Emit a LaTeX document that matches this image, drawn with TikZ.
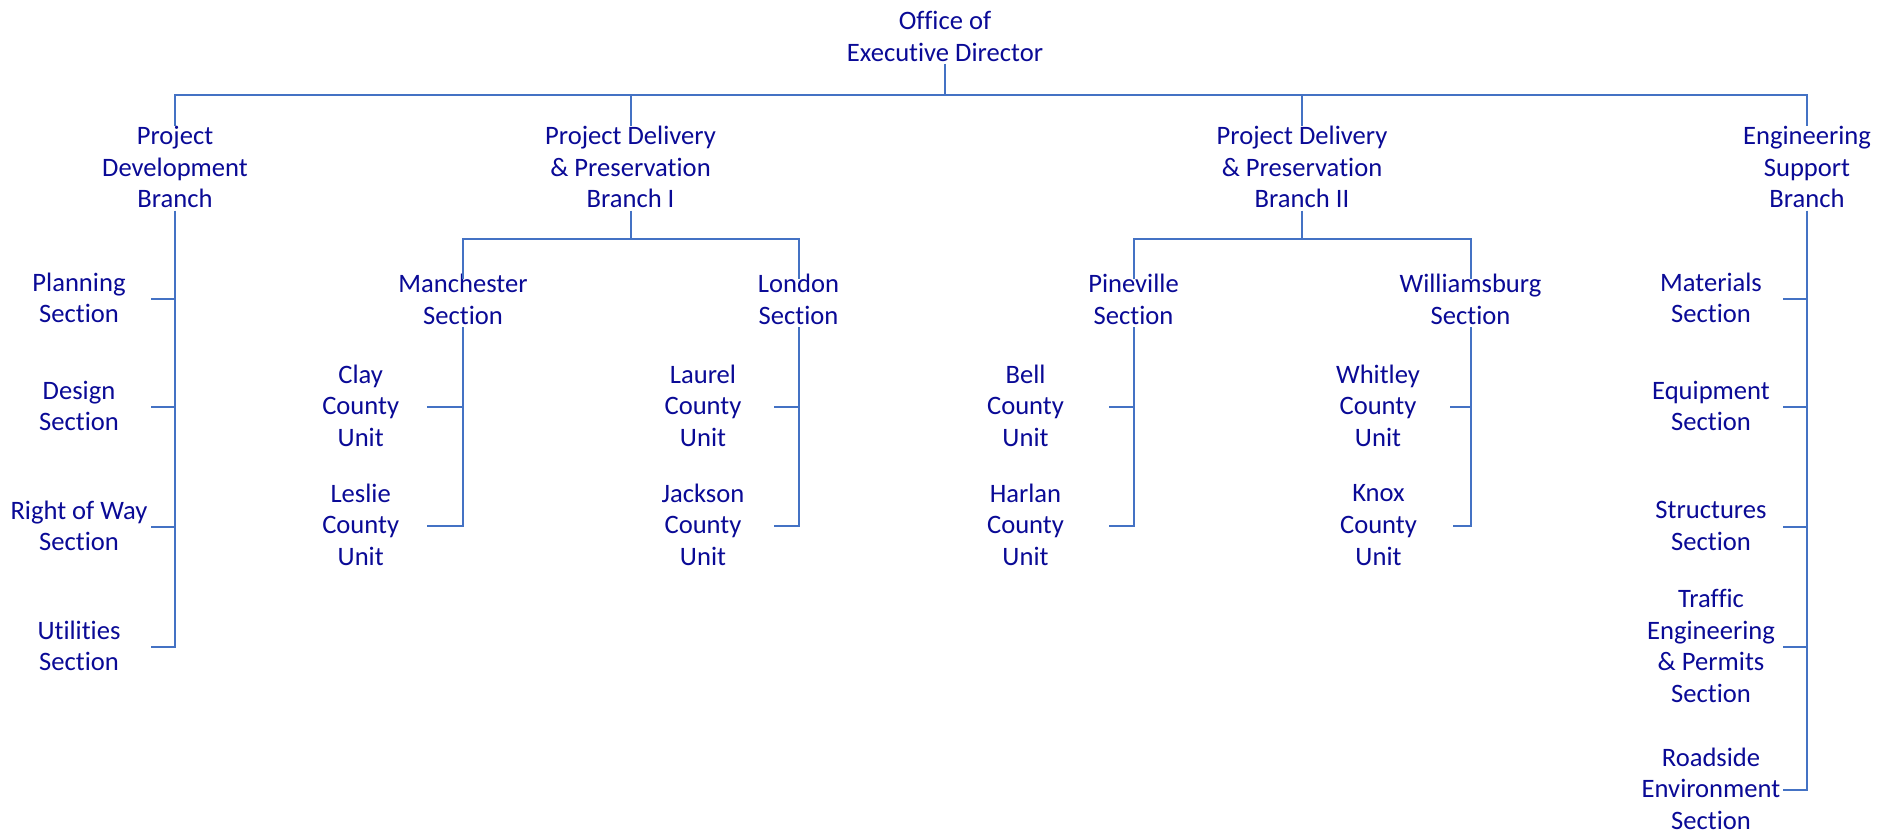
\documentclass[tikz,border=0pt]{standalone}
\usepackage{fontspec}
\setmainfont{Carlito}[Ligatures=CommonOff]
\definecolor{txt}{RGB}{10,10,150}
\definecolor{ln}{RGB}{68,114,196}
\begin{document}
\begin{tikzpicture}[x=1pt,y=-1pt,
  lbl/.style={align=center, text=txt, inner sep=0pt,
    font=\fontsize{26.6}{31.8}\selectfont,
    execute at begin node={\rule{0pt}{29pt}},
    execute at end node={\rule[-2.5pt]{0pt}{2.5pt}}},
  leaf/.style={lbl, minimum width=#1},
  wire/.style={draw=ln, line width=2pt}]
\useasboundingbox (0,0) rectangle (1893,835);

% top level
\node[lbl] (office) at (945,37.3) {Office of\\Executive Director};
\node[lbl] (pdb) at (175,168.2) {Project\\Development\\Branch};
\node[lbl] (pd1) at (630.5,168.2) {Project Delivery\\\& Preservation\\Branch I};
\node[lbl] (pd2) at (1302,168.2) {Project Delivery\\\& Preservation\\Branch II};
\node[lbl] (esb) at (1807,168.2) {Engineering\\Support\\Branch};

% project development sections
\node[leaf=144] (plan)   at (79,299) {Planning\\Section};
\node[leaf=144] (design) at (79,407) {Design\\Section};
\node[leaf=144] (row)    at (79,527) {Right of Way\\Section};
\node[leaf=144] (util)   at (79,647) {Utilities\\Section};

% engineering support sections
\node[leaf=144] (mat)     at (1711,299) {Materials\\Section};
\node[leaf=144] (equip)   at (1711,407) {Equipment\\Section};
\node[leaf=144] (struct)  at (1711,527) {Structures\\Section};
\node[leaf=144] (traffic) at (1711,647) {Traffic\\Engineering\\\& Permits\\Section};
\node[leaf=144] (road)    at (1711,790) {Roadside\\Environment\\Section};

% delivery sections
\node[lbl] (man) at (463,300.7)    {Manchester\\Section};
\node[lbl] (lon) at (798.5,300.7)  {London\\Section};
\node[lbl] (pin) at (1133.5,300.7) {Pineville\\Section};
\node[lbl] (wil) at (1470.5,300.7) {Williamsburg\\Section};

% county units
\node[leaf=132] (clay)    at (360.7,407) {Clay\\County\\Unit};
\node[leaf=132] (leslie)  at (360.7,526) {Leslie\\County\\Unit};
\node[leaf=142] (laurel)  at (703,407)   {Laurel\\County\\Unit};
\node[leaf=142] (jackson) at (703,526)   {Jackson\\County\\Unit};
\node[leaf=167] (bell)    at (1025.5,407) {Bell\\County\\Unit};
\node[leaf=167] (harlan)  at (1025.5,526) {Harlan\\County\\Unit};
\node[leaf=144] (whitley) at (1378,407)  {Whitley\\County\\Unit};
\node[leaf=149] (knox)    at (1378.5,526) {Knox\\County\\Unit};

% bus lines
\coordinate (bar)   at (0,94.5);
\coordinate (barI)  at (0,239);
\coordinate (barII) at (0,239);

\draw[wire] (office.south) -- (office.south |- bar);
\draw[wire] (pdb.north) -- (pdb.north |- bar) -- (esb.north |- bar) -- (esb.north);
\draw[wire] (pd1.north) -- (pd1.north |- bar);
\draw[wire] (pd2.north) -- (pd2.north |- bar);

\draw[wire] (pd1.south) -- (pd1.south |- barI);
\draw[wire, shorten <=-5pt, shorten >=-5pt] (man.north) -- (man.north |- barI) -- (lon.north |- barI) -- (lon.north);
\draw[wire] (pd2.south) -- (pd2.south |- barII);
\draw[wire, shorten <=-5pt, shorten >=-5pt] (pin.north) -- (pin.north |- barII) -- (wil.north |- barII) -- (wil.north);

% left column
\draw[wire] (pdb.south) -- (pdb.south |- util.east) -- (util.east);
\foreach \n in {plan,design,row}
  \draw[wire] (\n.east) -- (\n.east -| pdb.south);

% right column
\draw[wire] (esb.south) -- (esb.south |- road.east) -- (road.east);
\foreach \n in {mat,equip,struct,traffic}
  \draw[wire] (\n.east) -- (\n.east -| esb.south);

% unit columns
\draw[wire] (man.south) -- (man.south |- leslie.east) -- (leslie.east);
\draw[wire] (clay.east) -- (clay.east -| man.south);
\draw[wire] (lon.south) -- (lon.south |- jackson.east) -- (jackson.east);
\draw[wire] (laurel.east) -- (laurel.east -| lon.south);
\draw[wire] (pin.south) -- (pin.south |- harlan.east) -- (harlan.east);
\draw[wire] (bell.east) -- (bell.east -| pin.south);
\draw[wire] (wil.south) -- (wil.south |- knox.east) -- (knox.east);
\draw[wire] (whitley.east) -- (whitley.east -| wil.south);
\end{tikzpicture}
\end{document}
